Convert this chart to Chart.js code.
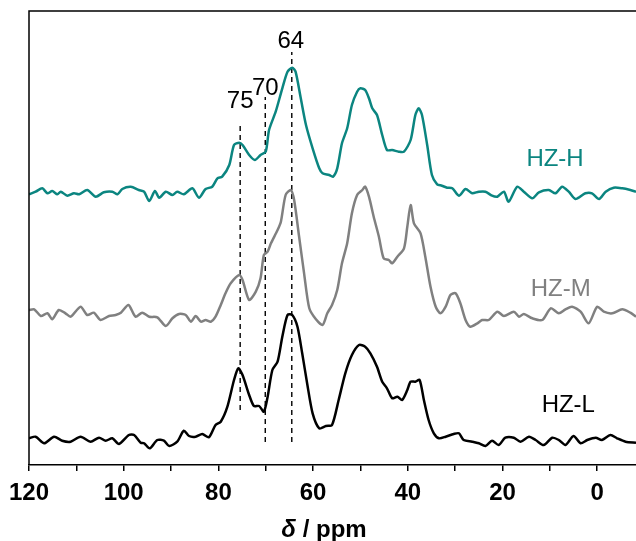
<!DOCTYPE html>
<html>
<head>
<meta charset="utf-8">
<script src="https://cdn.jsdelivr.net/npm/chart.js@4.4.1/dist/chart.umd.min.js"></script>
<style>
  html, body { margin: 0; padding: 0; background: #fff; }
  #wrap { width: 636px; height: 541px; position: relative; }
</style>
</head>
<body>
<div id="wrap"><canvas id="c"></canvas></div>
<script>
// chemical shift (ppm) and signal height for each sample
var ppmH = [120,118.6,117.2,116.1,115.1,114,113.3,111.9,110.5,109.4,107.7,105.9,104.2,102.4,101.3,100.3,98.5,96.8,95.7,94.6,93.4,92.5,91.1,89.7,88.7,87.3,85.5,84.1,82.7,81.3,80.2,79.2,77.7,76.7,75.6,74.9,73.5,72.3,71.1,70,69.3,67.9,66.5,65.4,64.4,63.7,62.6,61.5,60.1,58.7,58,56.6,55.8,54.9,53.9,52.8,51.8,50.7,50,49,48.2,47.5,46.5,45.4,44.4,43.3,41.9,40.8,39.4,38.4,37.7,37,35.9,34.9,33.8,32.8,31.7,30.6,29.2,27.8,26.4,25,23.6,22.2,21.1,19.7,18.7,16.9,15.5,13.7,12.3,10.2,8.8,7.4,6,4.6,2.5,1.1,-0.4,-1.8,-3.5,-5.3,-7,-8.2];
var hzH = [270.7,273.3,276.7,271.7,274,270.7,273.3,269.3,271.7,270.7,275,268.3,272.7,273.3,270.7,276,278.3,275,273.3,264,274,267.3,273.3,270,273.3,270.7,276.7,267.3,276,278.3,286.7,288.3,300,320,322.3,320,310,305,310,313.3,335,353.3,376.7,393.3,397.3,393.3,366.7,340,316.7,296.7,291.7,290,288.3,296.7,321.7,336.7,360,373.3,376.7,375,366.7,356.7,350,330,315,315,313.3,313.3,325,350,356.7,350,320,290,280.7,279.3,277.3,276.7,269.3,276,271.7,273.3,273.3,269.3,268.3,273.3,263.3,278.3,273.3,266.7,272.7,275,271.7,278.3,273.3,266,271.7,271.7,266,273.3,277.3,276.7,275,273.3];

var ppmM = [120,118.9,117.5,116.1,115.1,113.7,112.3,111.2,109.1,107.7,106.3,104.9,103.1,101.7,100.6,99,97.5,96.1,94.6,92.9,91.1,89.7,88.3,86.9,85.8,84.8,83.7,82.7,81.6,80.6,79.5,78.5,77.4,75.6,74.9,73.5,72.1,71.1,70.4,69.6,68.9,67.5,66.8,65.8,64.7,64,63,61.9,60.8,59.4,58,57,56,54.9,53.9,52.8,51.8,50.7,49.6,49,48.2,47.2,46.1,45.1,44,43.3,42.2,40.8,40.1,39.4,38.7,37.3,36.3,35.2,34.1,33.1,32,31,29.9,28.9,27.8,26.8,25.3,24.3,22.9,21.1,19.7,17.6,16.5,15.5,13.7,11.6,9.8,8.1,6.7,5.3,3.5,1.8,0,-1.4,-3.2,-5.3,-7,-8.2];
var hzM = [155,155.7,149,151.7,145.7,155,151.7,148.3,158.3,150,152.3,145,149,150,152.3,160,148.3,152.3,148.3,147.7,139,146.7,151,150,143.3,149,143.3,145,143.3,148.3,160,171.7,181.7,190,185,165,173.3,186.7,210,213.3,221.7,235,243.3,270,275,265,230,191.7,156.7,145.7,140,151.7,160,175,201.7,221.7,251.7,270,275,278.3,268.3,248.3,228.3,206.7,205,201.7,208.3,216.7,238.3,260,241.7,231.7,208.3,178.3,158.3,151.7,158.3,170,171.7,161.7,145,138.3,141.7,145,145,153.3,149,153.3,148.3,151,146.7,145,156.7,151.7,155.7,158.3,153.3,141.7,158.3,153.3,151.7,155.7,152.3,148.3];

var ppmL = [120,118.6,116.8,114.7,113,111.2,109.1,107,105.2,103.8,102.4,101,98.9,97.8,96.4,95.7,94.5,92.9,91.5,90.4,88.7,87.3,86.2,84.8,83.4,82,80.6,79.5,78.1,76.7,75.8,74.9,73.5,72.5,71.4,70.4,69.6,68.6,67.5,66.5,65.4,64.4,63.3,62.3,61.2,60.1,58.7,57.3,56,54.6,53.2,51.8,50.3,49,47.9,46.5,45.4,44.4,43.3,42.2,41.2,40.1,39.4,38.4,37.5,36.6,35.6,34.5,33.4,32,30.3,29.2,28.2,26.4,25,23.6,22.2,20.8,19.4,17.6,16.2,14.4,13,11.3,9.5,8.1,6.7,5,3.5,2.1,0.3,-1,-2.8,-4.2,-6,-8.2];
var hzL = [26.7,28.3,21.7,28.3,24.3,23.3,28.3,23.3,27.3,24.3,26.7,21,30,30,22.3,21.7,16.7,25,24.3,19,23.3,34.3,29,28.3,31,27.7,40,43.3,58.3,85,96.7,90,70,59,59,53.3,68.3,95,103.3,128.3,150,150,138.3,111.7,80,51.7,36.7,39,40,65,91.7,110,120,118.3,111.7,98.3,83.3,76.7,66.7,68.3,65,75,83.3,83.3,85,65,45,31.7,26.7,28.3,31,31.7,25,23.3,21.7,19,24.3,20,27.3,27.3,23.3,28.3,25,20,27.3,25,20,29,21.7,25,27.3,25,30,26.7,23.3,22.3];

var seriesNames = ['HZ-H', 'HZ-M', 'HZ-L'];
var seriesColors = ['#0b8580', '#808080', '#000000'];
var namePpm = [8.9, 7.7, 6.1];
var nameHeight = [306, 176, 60];

// dashed marker lines
var markPpm = [75.4, 70.1, 64.5];
var markTop = [342, 368, 413];
var markBottom = [55, 23, 23];
var markLabels = ['75', '70', '64'];
var markLabelPpm = [75.4, 70.1, 64.7];
var markLabelHeight = [364, 377, 424];

var xTicks = [120, 100, 80, 60, 40, 20, 0];

function pts(xs, ys) {
  return xs.map(function (x, i) { return { x: x, y: ys[i] }; });
}

var datasets = [
  { data: pts(ppmH, hzH), borderColor: seriesColors[0] },
  { data: pts(ppmM, hzM), borderColor: seriesColors[1] },
  { data: pts(ppmL, hzL), borderColor: seriesColors[2] }
].map(function (d) {
  d.borderWidth = 2.5; d.pointRadius = 0; d.tension = 0.25; d.fill = false;
  return d;
});

markPpm.forEach(function (p, i) {
  datasets.push({
    data: [{ x: p, y: markBottom[i] }, { x: p, y: markTop[i] }],
    borderColor: '#000', borderWidth: 1.4, borderDash: [5, 4],
    pointRadius: 0, fill: false
  });
});

var FONT = '"Liberation Sans", Arial, sans-serif';

var extras = {
  id: 'extras',
  afterDraw: function (chart) {
    var ctx = chart.ctx, a = chart.chartArea;
    var xs = chart.scales.x, ys = chart.scales.y;
    ctx.save();
    // frame: left and top
    ctx.strokeStyle = '#000';
    ctx.lineWidth = 1.5;
    ctx.beginPath();
    ctx.moveTo(a.left, a.bottom);
    ctx.lineTo(a.left, a.top);
    ctx.lineTo(a.right, a.top);
    ctx.stroke();

    // peak labels
    ctx.fillStyle = '#000';
    ctx.font = '24px ' + FONT;
    ctx.textAlign = 'center';
    ctx.textBaseline = 'middle';
    markLabels.forEach(function (t, i) {
      ctx.fillText(t, xs.getPixelForValue(markLabelPpm[i]), ys.getPixelForValue(markLabelHeight[i]));
    });

    // series names
    ctx.font = '24px ' + FONT;
    seriesNames.forEach(function (t, i) {
      ctx.fillStyle = seriesColors[i];
      ctx.fillText(t, xs.getPixelForValue(namePpm[i]), ys.getPixelForValue(nameHeight[i]));
    });

    // axis title: italic delta + bold "/ ppm"
    var yT = 530;
    ctx.fillStyle = '#000';
    ctx.textAlign = 'left';
    var f1 = 'italic bold 24px ' + FONT, f2 = 'bold 24px ' + FONT;
    ctx.font = f1; var w1 = ctx.measureText('\u03b4').width;
    ctx.font = f2; var w2 = ctx.measureText(' / ppm').width;
    var x0 = 324 - (w1 + w2) / 2;
    ctx.font = f1; ctx.fillText('\u03b4', x0, yT);
    ctx.font = f2; ctx.fillText(' / ppm', x0 + w1, yT);
    ctx.restore();
  }
};

new Chart(document.getElementById('c'), {
  type: 'line',
  data: { datasets: datasets },
  options: {
    responsive: true,
    maintainAspectRatio: false,
    animation: false,
    layout: { padding: { left: 29, top: 11, right: 0, bottom: 0 } },
    plugins: { legend: { display: false }, tooltip: { enabled: false } },
    scales: {
      x: {
        type: 'linear',
        reverse: true,
        min: -8.2,
        max: 120,
        afterBuildTicks: function (s) {
          s.ticks = [];
          for (var v = 120; v >= -8; v -= 10) s.ticks.push({ value: v });
        },
        afterFit: function (s) { s.height = 76; },
        ticks: {
          autoSkip: false,
          maxRotation: 0,
          padding: 8,
          color: '#000',
          font: { family: FONT, size: 24, weight: 'bold' },
          callback: function (v) { return xTicks.indexOf(v) >= 0 ? String(v) : ''; }
        },
        grid: { drawOnChartArea: false, tickLength: 6, color: '#000', lineWidth: 1.5 },
        border: { display: true, color: '#000', width: 1.5 }
      },
      y: { display: false, min: 0, max: 454 }
    }
  },
  plugins: [extras]
});
</script>
</body>
</html>
